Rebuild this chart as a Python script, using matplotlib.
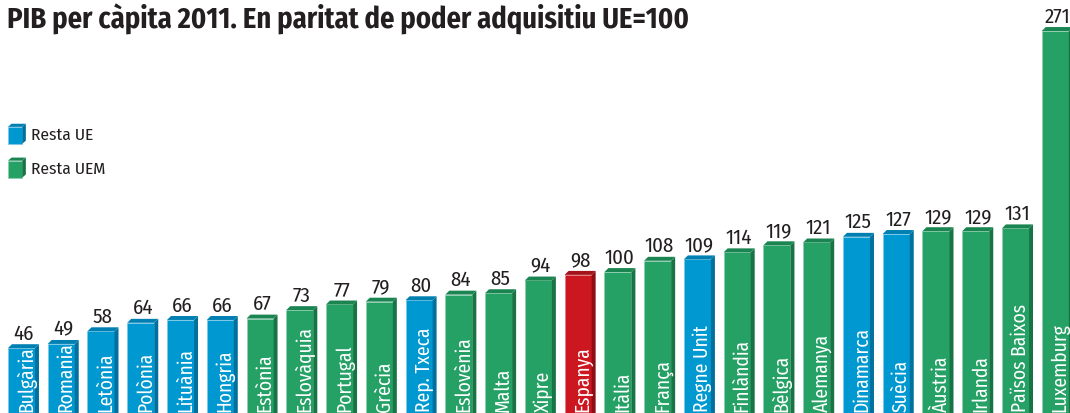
import matplotlib
matplotlib.use("Agg")
import matplotlib.pyplot as plt
from matplotlib.patches import Polygon, Rectangle

plt.rcParams['font.family'] = ['Fira Sans Condensed', 'DejaVu Sans']

countries = ['Bulgària', 'Romania', 'Letònia', 'Polònia', 'Lituània', 'Hongria',
             'Estònia', 'Eslovàquia', 'Portugal', 'Grècia', 'Rep. Txeca', 'Eslovènia',
             'Malta', 'Xipre', 'Espanya', 'Itàlia', 'França', 'Regne Unit', 'Finlàndia',
             'Bèlgica', 'Alemanya', 'Dinamarca', 'Suècia', 'Àustria', 'Irlanda',
             'Països Baixos', 'Luxemburg']
values = [46, 49, 58, 64, 66, 66, 67, 73, 77, 79, 80, 84, 85, 94, 98, 100, 108, 109,
          114, 119, 121, 125, 127, 129, 129, 131, 271]
groups = ['UE', 'UE', 'UE', 'UE', 'UE', 'UE', 'UEM', 'UEM', 'UEM', 'UEM', 'UE', 'UEM',
          'UEM', 'UEM', 'ES', 'UEM', 'UEM', 'UE', 'UEM', 'UEM', 'UEM', 'UE', 'UE',
          'UEM', 'UEM', 'UEM', 'UEM']

# front, side, top, edge
cols = {'UE': ('#0098D0', '#00709E', '#0080B2', '#7cc8e6'),
        'UEM': ('#26A166', '#187445', '#1B8552', '#8fd0ae'),
        'ES': ('#CC1720', '#8E0E14', '#A51219', '#e07a7e')}

fig = plt.figure(figsize=(10.7, 4.14), dpi=100)
ax = fig.add_axes([0, 0, 1, 1])
ax.set_xlim(-0.2, 26.71)
ax.set_ylim(0, 293.7)
ax.axis('off')

w = 0.68
dx = 0.1
dy = 2.8


def cube(x, y0, y1, wd, ddx, ddy, c):
    ax.add_patch(Rectangle((x, y0), wd, y1 - y0, facecolor=c[0], edgecolor=c[3], lw=0.5, zorder=2))
    ax.add_patch(Polygon([(x + wd, y0), (x + wd + ddx, y0 + ddy), (x + wd + ddx, y1 + ddy), (x + wd, y1)],
                         closed=True, facecolor=c[1], edgecolor='none', zorder=2))
    ax.add_patch(Polygon([(x, y1), (x + ddx, y1 + ddy), (x + wd + ddx, y1 + ddy), (x + wd, y1)],
                         closed=True, facecolor=c[2], edgecolor='none', zorder=2))


for i, (name, v, g) in enumerate(zip(countries, values, groups)):
    cube(i, -5, v, w, dx, dy, cols[g])
    ax.text(i + w / 2 + dx / 2, v + dy + 1.0, str(v), ha='center', va='bottom',
            fontsize=15, color='#231f20')
    ax.text(i + w / 2 + 0.12, 1.2, name, rotation=90, ha='center', va='bottom',
            fontsize=14, color='white', zorder=3)

# legend
cube(0.0, 191, 203, 0.36, 0.09, 2.2, cols['UE'])
ax.text(0.57, 197.5, 'Resta UE', va='center', ha='left', fontsize=12.5, color='#231f20')
cube(0.0, 167, 179, 0.36, 0.09, 2.2, cols['UEM'])
ax.text(0.57, 173.5, 'Resta UEM', va='center', ha='left', fontsize=12.5, color='#231f20')

fig.text(0.007, 0.99, 'PIB per càpita 2011. En paritat de poder adquisitiu UE=100',
         ha='left', va='top', fontsize=20.5, fontweight='bold', color='#231f20')

fig.savefig('out.png', dpi=100)
